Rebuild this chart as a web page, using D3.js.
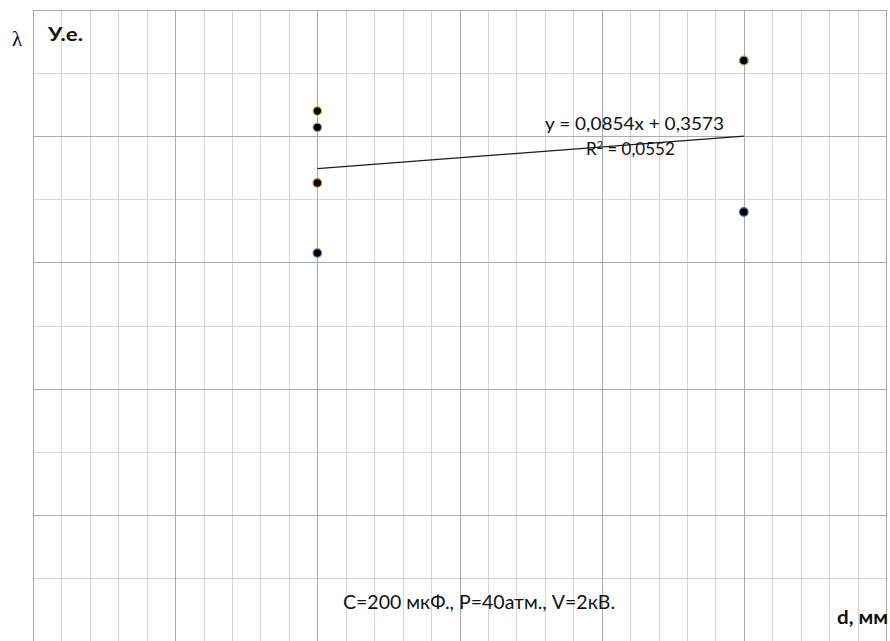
<!DOCTYPE html>
<html>
<head>
<meta charset="utf-8">
<script src="https://cdn.jsdelivr.net/npm/d3@7"></script>
<style>
  html, body { margin: 0; padding: 0; background: #ffffff; }
  svg { display: block; }
</style>
</head>
<body>
<div id="chart"></div>
<script>
// Gap width d (mm) and measured λ (conventional units), one point per series
const dValues = [0.2, 0.2, 0.2, 0.2, 0.5, 0.5];
const lambdaValues = [0.3075, 0.363, 0.407, 0.42, 0.34, 0.46];
const seriesColors = ["#5B9BD5", "#ED7D31", "#A5A5A5", "#FFC000", "#4472C4", "#70AD47"];

// Linear trendline coefficients as printed on the chart
const trendSlope = [0.0854];
const trendIntercept = [0.3573];
const trendR2 = [0.0552];
const trendRange = [0.2, 0.5];

// Axis ranges and grid steps
const xDomain = [0, 0.6];
const yDomain = [0, 0.5];
const xMinorStep = 0.02, xMajorStep = 0.1;
const yMinorStep = 0.05, yMajorStep = 0.1;

const W = 890, H = 641;
const plot = { left: 33, top: 10, right: 886, bottom: 641 };

const svg = d3.select("#chart").append("svg")
  .attr("width", W).attr("height", H);

const x = d3.scaleLinear().domain(xDomain).range([plot.left, plot.right]);
const y = d3.scaleLinear().domain(yDomain).range([plot.bottom, plot.top]);

const crisp = v => Math.round(v) + 0.5;
const isMajor = (v, step) => Math.abs(v / step - Math.round(v / step)) < 1e-6;

const xGrid = d3.range(0, Math.round((xDomain[1] - xDomain[0]) / xMinorStep) + 1)
  .map(i => xDomain[0] + i * xMinorStep);
const yGrid = d3.range(0, Math.round((yDomain[1] - yDomain[0]) / yMinorStep) + 1)
  .map(i => yDomain[0] + i * yMinorStep);

const grid = svg.append("g");

// minor lines first, major lines on top
const xMinor = xGrid.filter(v => !isMajor(v, xMajorStep));
const xMajor = xGrid.filter(v => isMajor(v, xMajorStep));
const yMinor = yGrid.filter(v => !isMajor(v, yMajorStep));
const yMajor = yGrid.filter(v => isMajor(v, yMajorStep));

grid.selectAll("line.xmin").data(xMinor).join("line")
  .attr("x1", d => crisp(x(d))).attr("x2", d => crisp(x(d)))
  .attr("y1", plot.top).attr("y2", plot.bottom)
  .attr("stroke", "#d6d6d6").attr("stroke-width", 1);
grid.selectAll("line.ymin").data(yMinor).join("line")
  .attr("y1", d => crisp(y(d))).attr("y2", d => crisp(y(d)))
  .attr("x1", plot.left).attr("x2", plot.right)
  .attr("stroke", "#d9d9d9").attr("stroke-width", 1);
grid.selectAll("line.xmaj").data(xMajor).join("line")
  .attr("x1", d => crisp(x(d))).attr("x2", d => crisp(x(d)))
  .attr("y1", plot.top).attr("y2", plot.bottom)
  .attr("stroke", "#a9a9a9").attr("stroke-width", 1);
grid.selectAll("line.ymaj").data(yMajor).join("line")
  .attr("y1", d => crisp(y(d))).attr("y2", d => crisp(y(d)))
  .attr("x1", plot.left).attr("x2", plot.right)
  .attr("stroke", "#ababab").attr("stroke-width", 1);

// trendline y = a*x + b
const trend = trendRange.map(v => [v, trendSlope[0] * v + trendIntercept[0]]);
svg.append("path")
  .datum(trend)
  .attr("d", d3.line().x(d => x(d[0])).y(d => y(d[1])))
  .attr("fill", "none").attr("stroke", "#1a1a1a").attr("stroke-width", 1.2);

// data points
svg.append("g").selectAll("circle")
  .data(dValues.map((d, i) => ({ d, v: lambdaValues[i], c: seriesColors[i] })))
  .join("circle")
  .attr("cx", p => x(p.d)).attr("cy", p => y(p.v))
  .attr("r", 4.3)
  .attr("fill", "#000000")
  .attr("stroke", p => p.c).attr("stroke-width", 1.2);

const fmt = v => v.toFixed(4).replace(".", ",");
const sans = "Lato, 'Open Sans', 'Liberation Sans', sans-serif";

// trendline equation and R²
svg.append("text")
  .attr("x", 545).attr("y", 130)
  .attr("font-family", sans).attr("font-size", 17).attr("fill", "#111")
  .attr("textLength", 179).attr("lengthAdjust", "spacingAndGlyphs")
  .text(`y = ${fmt(trendSlope[0])}x + ${fmt(trendIntercept[0])}`);

const r2 = svg.append("text")
  .attr("x", 586).attr("y", 155)
  .attr("font-family", sans).attr("font-size", 17).attr("fill", "#111");
r2.append("tspan").text("R");
r2.append("tspan").attr("dy", -6).attr("font-size", 11).text("2");
r2.append("tspan").attr("dy", 6).text(` = ${fmt(trendR2[0])}`);

// axis titles
svg.append("text")
  .attr("x", 12).attr("y", 46)
  .attr("font-family", "'Liberation Serif', 'DejaVu Serif', serif")
  .attr("font-size", 21).attr("fill", "#000")
  .text("λ");
svg.append("text")
  .attr("x", 48).attr("y", 41)
  .attr("font-family", sans).attr("font-weight", "bold")
  .attr("font-size", 18).attr("fill", "#111")
  .attr("textLength", 35).attr("lengthAdjust", "spacingAndGlyphs")
  .text("У.е.");
svg.append("text")
  .attr("x", 837).attr("y", 624)
  .attr("font-family", sans).attr("font-weight", "bold")
  .attr("font-size", 18).attr("fill", "#111")
  .attr("textLength", 51).attr("lengthAdjust", "spacingAndGlyphs")
  .text("d, мм");

// experiment conditions
svg.append("text")
  .attr("x", 343).attr("y", 609)
  .attr("font-family", sans).attr("font-size", 19).attr("fill", "#111")
  .attr("textLength", 272).attr("lengthAdjust", "spacingAndGlyphs")
  .text("C=200 мкФ., P=40атм., V=2кВ.");
</script>
</body>
</html>
